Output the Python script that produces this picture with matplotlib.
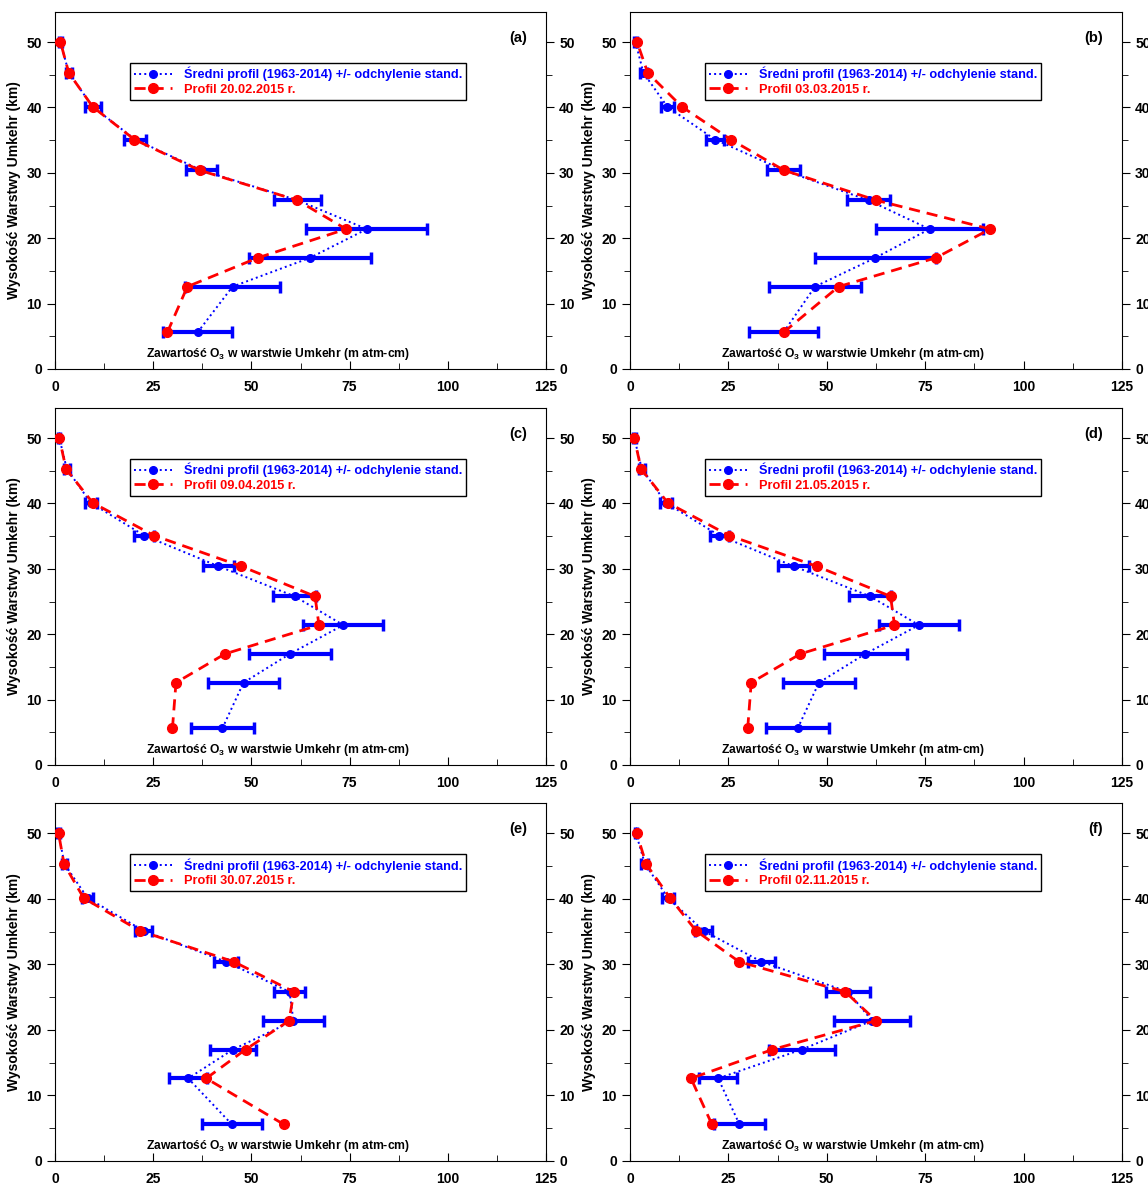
import matplotlib
matplotlib.use('Agg')
import matplotlib.pyplot as plt
from matplotlib.ticker import MultipleLocator

plt.rcParams['font.family'] = ['Liberation Sans', 'DejaVu Sans']
plt.rcParams['font.weight'] = 'bold'
plt.rcParams['mathtext.fontset'] = 'custom'
plt.rcParams['mathtext.bf'] = 'Liberation Sans:bold'
plt.rcParams['mathtext.rm'] = 'Liberation Sans:bold'

# Umkehr layer altitudes (km)
altitude = [5.6, 12.6, 17.0, 21.4, 25.8, 30.4, 35.1, 40.1, 45.3, 50.0]

panel_tags = ['(a)', '(b)', '(c)', '(d)', '(e)', '(f)']
dates = ['20.02.2015', '03.03.2015', '09.04.2015', '21.05.2015', '30.07.2015', '02.11.2015']

# mean profile 1963-2014 (m atm-cm)
mean_a = [36.3, 45.2, 64.9, 79.4, 61.8, 37.3, 20.4, 9.6, 3.5, 1.4]
mean_b = [39.0, 47.0, 62.3, 76.1, 60.6, 39.0, 21.6, 9.5, 3.4, 1.4]
mean_c = [42.6, 48.0, 59.8, 73.4, 61.0, 41.6, 22.7, 9.1, 3.0, 1.1]
mean_d = [42.6, 48.0, 59.8, 73.4, 61.0, 41.6, 22.7, 9.1, 3.0, 1.1]
mean_e = [45.0, 33.9, 45.3, 60.7, 59.7, 43.5, 22.6, 8.3, 2.4, 0.9]
mean_f = [27.8, 22.4, 43.6, 61.5, 55.4, 33.4, 18.7, 9.7, 3.8, 1.5]

# standard deviation
sd_a = [8.8, 12.0, 15.6, 15.4, 6.0, 4.0, 2.8, 2.0, 0.8, 0.3]
sd_b = [8.8, 11.7, 15.4, 13.7, 5.5, 4.1, 2.4, 1.6, 0.8, 0.3]
sd_c = [8.0, 9.1, 10.5, 10.2, 5.4, 3.9, 2.5, 1.5, 0.7, 0.3]
sd_d = [8.0, 9.1, 10.5, 10.2, 5.4, 3.9, 2.5, 1.5, 0.7, 0.3]
sd_e = [7.7, 4.9, 5.8, 7.7, 4.0, 3.0, 2.2, 1.5, 0.7, 0.3]
sd_f = [6.5, 4.9, 8.4, 9.6, 5.7, 3.5, 2.1, 1.5, 0.9, 0.3]

# single-day profiles 2015
day_a = [28.6, 33.7, 51.6, 74.1, 61.7, 36.8, 20.2, 9.6, 3.5, 1.4]
day_b = [39.0, 53.0, 77.7, 91.5, 62.6, 39.1, 25.6, 13.2, 4.5, 1.8]
day_c = [29.9, 30.8, 43.3, 67.2, 66.2, 47.4, 25.2, 9.6, 2.8, 1.1]
day_d = [29.9, 30.8, 43.3, 67.2, 66.2, 47.4, 25.2, 9.6, 2.8, 1.1]
day_e = [58.2, 38.5, 48.5, 59.6, 60.8, 45.5, 21.6, 7.3, 2.3, 0.9]
day_f = [20.8, 15.5, 36.2, 62.5, 54.7, 27.7, 16.8, 10.2, 4.1, 1.7]

means = [mean_a, mean_b, mean_c, mean_d, mean_e, mean_f]
sds = [sd_a, sd_b, sd_c, sd_d, sd_e, sd_f]
days = [day_a, day_b, day_c, day_d, day_e, day_f]

W, H = 1148, 1187
fig = plt.figure(figsize=(W / 100, H / 100), dpi=100)

# panel boxes in pixels: (left, right, top, bottom)
cols = [(55, 546), (630, 1122)]
rows = [(12, 369), (408, 765), (803, 1161)]

for i in range(6):
    left, right = cols[i % 2]
    top, bottom = rows[i // 2]
    ax = fig.add_axes([left / W, 1 - bottom / H, (right - left) / W, (bottom - top) / H])

    eb = ax.errorbar(means[i], altitude, xerr=sds[i], color='#0000ff', ls=':', lw=1.4,
                     marker='o', ms=5.5, elinewidth=3, capsize=4.5, capthick=2.5, zorder=2)
    red, = ax.plot(days[i], altitude, color='#ff0000', ls='--', lw=2, dashes=(4, 2.5),
                   marker='o', ms=7, zorder=3)

    ax.set_xlim(0, 125)
    ax.set_ylim(0, 54.6)
    ax.xaxis.set_major_locator(MultipleLocator(25))
    ax.xaxis.set_minor_locator(MultipleLocator(12.5))
    ax.yaxis.set_major_locator(MultipleLocator(10))
    ax.yaxis.set_minor_locator(MultipleLocator(5))
    ax.tick_params(axis='x', which='both', direction='in', top=False, labelsize=10, pad=8)
    ax.tick_params(axis='x', which='major', length=6)
    ax.tick_params(axis='x', which='minor', length=4)
    ax.tick_params(axis='y', which='both', direction='out', left=True, right=True,
                   labelleft=True, labelright=True, labelsize=10)
    ax.tick_params(axis='y', which='major', length=6)
    ax.tick_params(axis='y', which='minor', length=4)
    for lab in ax.get_xticklabels() + ax.get_yticklabels():
        lab.set_fontweight('bold')

    ax.set_ylabel('Wysokość Warstwy Umkehr (km)', fontsize=10, fontweight='bold', labelpad=4)
    ax.text(0.454, 0.042, r'Zawartość O$_\mathbf{3}$ w warstwie Umkehr (m atm-cm)',
            transform=ax.transAxes, ha='center', va='center', fontsize=8.7, fontweight='bold')
    ax.text(0.962, 0.927, panel_tags[i], transform=ax.transAxes, ha='right', va='center',
            fontsize=10.5, fontweight='bold')

    leg = ax.legend([eb.lines[0], red],
                    ['Średni profil (1963-2014) +/- odchylenie stand.', 'Profil ' + dates[i] + ' r.'],
                    loc='upper left', bbox_to_anchor=(0.153, 0.857), borderaxespad=0,
                    fancybox=False, framealpha=1, edgecolor='black', handlelength=3.0,
                    handletextpad=0.9, borderpad=0.3, labelspacing=0.2,
                    prop={'size': 9.2, 'weight': 'bold'})
    leg.get_frame().set_linewidth(1.0)
    for txt, col in zip(leg.get_texts(), ['#0000ff', '#ff0000']):
        txt.set_color(col)

fig.savefig('out.png', dpi=100)
